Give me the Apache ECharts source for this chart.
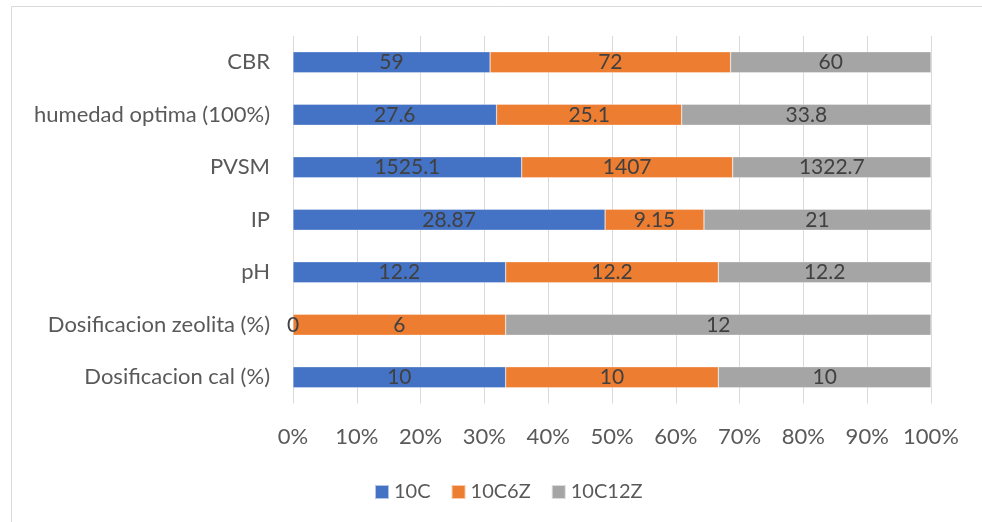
<!DOCTYPE html>
<html><head><meta charset="utf-8">
<script src="https://cdn.jsdelivr.net/npm/echarts@6/dist/echarts.min.js"></script>
<style>html,body{margin:0;padding:0;background:#fff}#c{width:982px;height:522px}</style>
</head><body><div id="c"></div>
<script>
const categories = ["CBR","humedad optima (100%)","PVSM","IP","pH","Dosificacion zeolita (%)","Dosificacion cal (%)"];
const seriesNames = ["10C","10C6Z","10C12Z"];
const s10C = [59,27.6,1525.1,28.87,12.2,0,10];
const s10C6Z = [72,25.1,1407,9.15,12.2,6,10];
const s10C12Z = [60,33.8,1322.7,21,12.2,12,10];
const xTicks = [0,10,20,30,40,50,60,70,80,90,100];
const colors = ["#4472C4","#ED7D31","#A5A5A5"];

const raw = [s10C, s10C6Z, s10C12Z];
const totals = categories.map((_, i) => raw.reduce((a, s) => a + s[i], 0));
const font = "Lato, 'Liberation Sans', sans-serif";

const chart = echarts.init(document.getElementById('c'), null, {renderer:'canvas'});
chart.setOption({
  animation:false,
  backgroundColor:'#fff',
  graphic:[{type:'rect', shape:{x:11.5,y:6.5,width:1000,height:600}, style:{fill:'none',stroke:'#d9d9d9',lineWidth:1}, silent:true}],
  grid:{left:293,right:51,top:36,height:367.5,containLabel:false},
  legend:{top:477,left:369,icon:'rect',itemWidth:14,itemHeight:14,itemGap:20,
    textStyle:{fontFamily:font,fontSize:20,color:'#595959'},data:seriesNames},
  xAxis:{type:'value',min:0,max:100,interval:10,
    axisLabel:{formatter:'{value}%',fontFamily:font,fontSize:22,color:'#595959',margin:22},
    axisLine:{show:false},axisTick:{show:false},
    splitLine:{lineStyle:{color:'#d9d9d9',width:1}}},
  yAxis:{type:'category',inverse:true,data:categories,
    axisLine:{show:false},axisTick:{show:false},
    axisLabel:{fontFamily:font,fontSize:22,color:'#595959',margin:23}},
  series: raw.map((arr, k) => ({
    name:seriesNames[k],type:'bar',stack:'t',barWidth:21,
    itemStyle:{color:colors[k],borderColor:'rgba(255,255,255,0.6)',borderWidth:0.5},
    label:{show:true,position:'inside',fontFamily:font,fontSize:21,color:'#404040',
      formatter:p=>String(p.data.raw)},
    data:arr.map((v,i)=>({value:v/totals[i]*100,raw:v}))
  }))
});
</script></body></html>
